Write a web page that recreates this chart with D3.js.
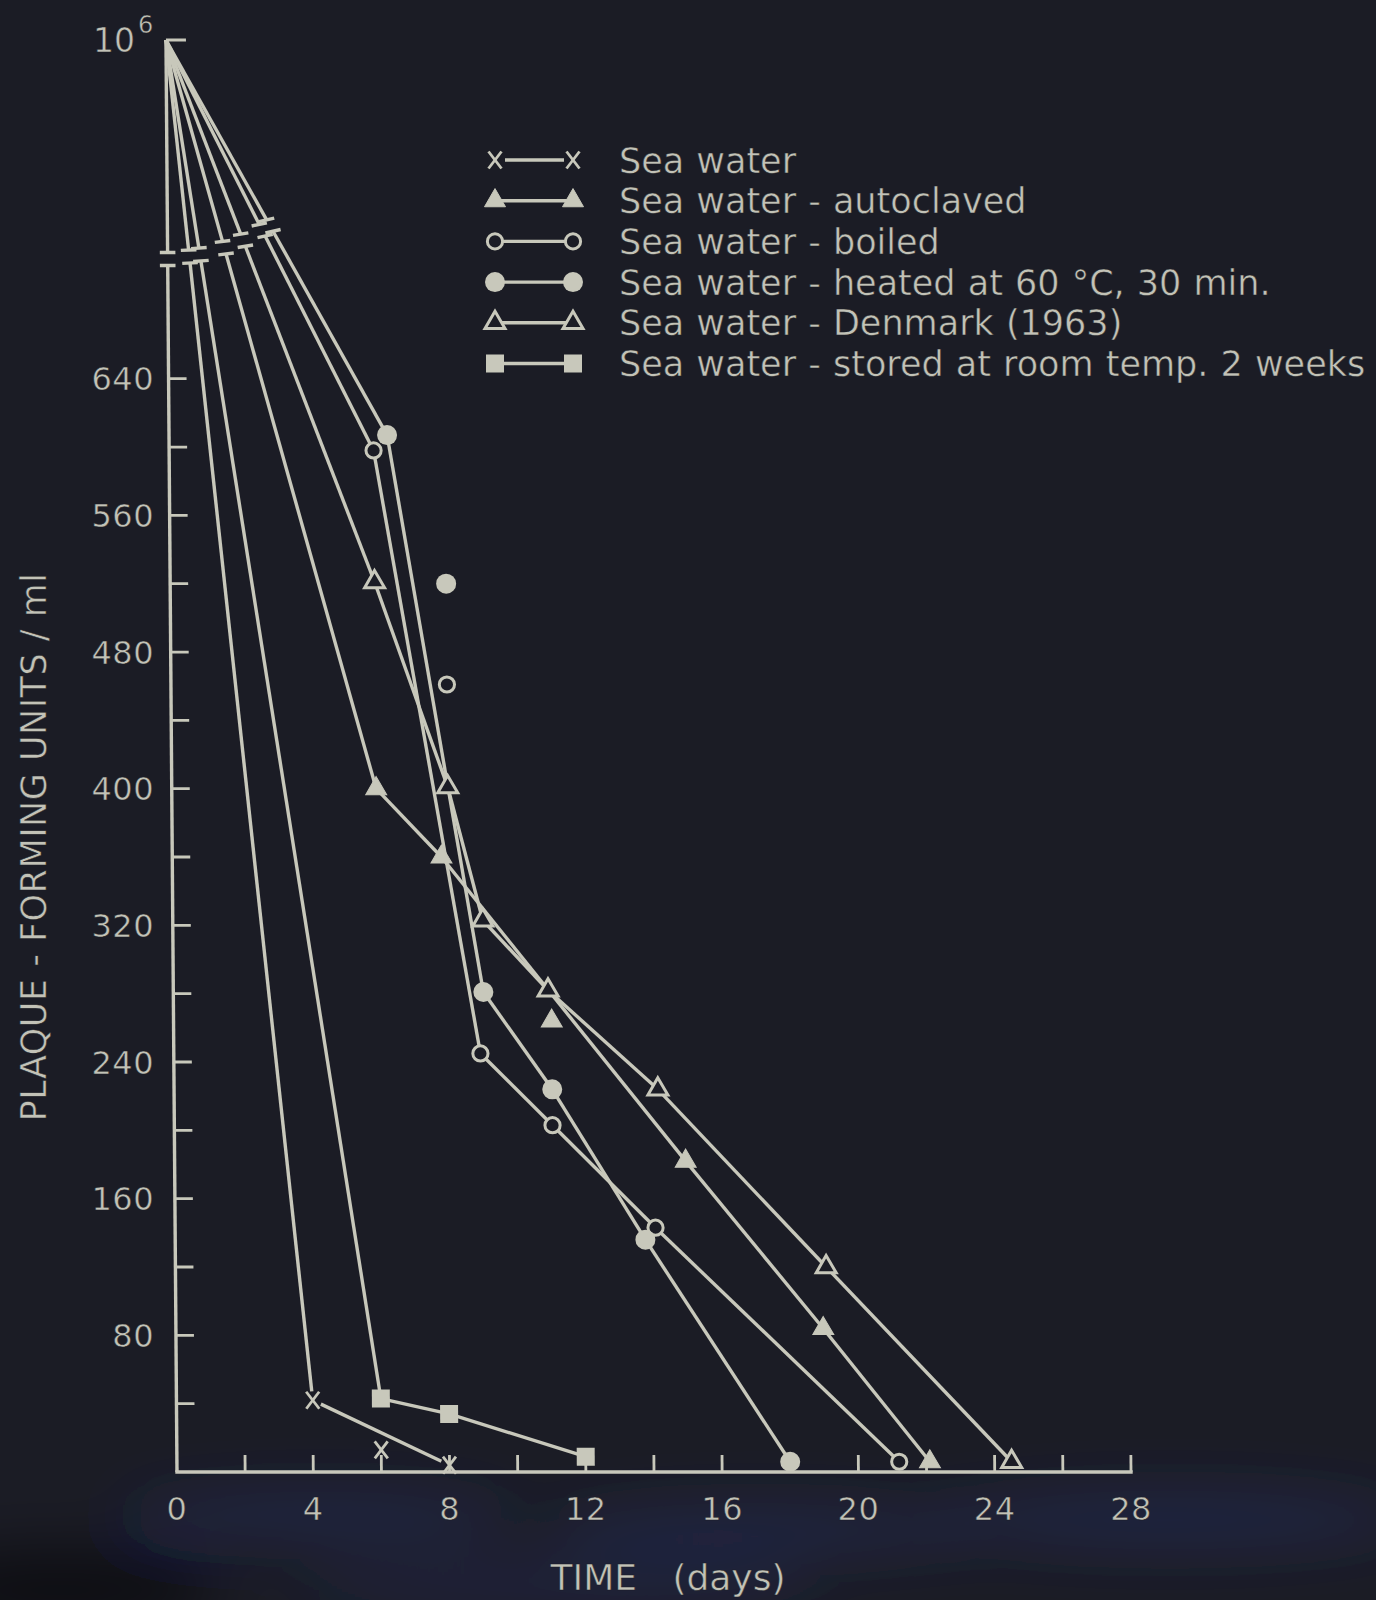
<!DOCTYPE html>
<html>
<head>
<meta charset="utf-8">
<script src="https://cdn.jsdelivr.net/npm/d3@7"></script>
<style>
  html, body { margin: 0; padding: 0; background: #1b1c25; }
  svg { display: block; }
  text { font-family: "DejaVu Sans", sans-serif; }
</style>
</head>
<body>
<svg id="chart" width="1376" height="1600"></svg>
<script>
// Phage survival in sea water: plaque-forming units per ml against time (days).
// Every series starts from 10^6 PFU/ml on day 0 (drawn above the axis break).
const startDay = 0;
const startPfu = 1e6;

const seaWaterDays   = [4, 6, 8];
const seaWaterPfu    = [42, 13, 4];
const seaWaterJoined = [true, false, true];

const autoclavedDays   = [6, 7.9, 11.1, 15, 19, 22.1];
const autoclavedPfu    = [400, 360, 264, 182, 84, 6];
const autoclavedJoined = [true, true, false, true, true, true];

const boiledDays   = [6, 8.1, 9, 11.1, 14.1, 21.2];
const boiledPfu    = [598, 461, 245, 203, 143, 6];
const boiledJoined = [true, false, true, true, true, true];

const heatedDays   = [6.4, 8.1, 9.1, 11.1, 13.8, 18];
const heatedPfu    = [607, 520, 281, 224, 136, 6];
const heatedJoined = [true, false, true, true, true, true];

const denmarkDays   = [6, 8.1, 9.1, 11, 14.2, 19.1, 24.5];
const denmarkPfu    = [521, 401, 323, 282, 224, 120, 6];
const denmarkJoined = [true, true, true, true, true, true, true];

const storedDays   = [6, 8, 12];
const storedPfu    = [43, 34, 9];
const storedJoined = [true, true, true];

const seriesLabels = [
  "Sea water",
  "Sea water - autoclaved",
  "Sea water - boiled",
  "Sea water - heated at 60 \u00B0C, 30 min.",
  "Sea water - Denmark (1963)",
  "Sea water - stored at room temp. 2 weeks"
];
const seriesMarkers = ["cross", "triFilled", "circleOpen", "circleFilled", "triOpen", "square"];

const xTickValues = [2, 4, 6, 8, 10, 12, 14, 16, 18, 20, 22, 24, 26, 28];
const xTickLabels = [0, 4, 8, 12, 16, 20, 24, 28];
const yTickValues = [40, 80, 120, 160, 200, 240, 280, 320, 360, 400, 440, 480, 520, 560, 600, 640];
const yTickLabels = [80, 160, 240, 320, 400, 480, 560, 640];

const xTitle = "TIME (days)";
const yTitle = "PLAQUE - FORMING UNITS / ml";

// ---------------------------------------------------------------------------
const W = 1376, H = 1600;
const bg = "#1b1c25";
const ink = "#c8c8bb";
const textInk = "#c2c2b7";

const series = [
  { days: seaWaterDays,   pfu: seaWaterPfu,   joined: seaWaterJoined },
  { days: autoclavedDays, pfu: autoclavedPfu, joined: autoclavedJoined },
  { days: boiledDays,     pfu: boiledPfu,     joined: boiledJoined },
  { days: heatedDays,     pfu: heatedPfu,     joined: heatedJoined },
  { days: denmarkDays,    pfu: denmarkPfu,    joined: denmarkJoined },
  { days: storedDays,     pfu: storedPfu,     joined: storedJoined }
].map((s, i) => ({ ...s, label: seriesLabels[i], marker: seriesMarkers[i] }));

const x = d3.scaleLinear().domain([0, 28]).range([177, 1131]);
// linear scale for the measured range; 10^6 sits above the break at the top
const y = d3.scaleLinear().domain([0, 640, startPfu]).range([1472, 378.7, 40]);
const base = y(0);
const shear = 0.0077; // the hand-drawn frame leans slightly to the left

const svg = d3.select("#chart");
const defs = svg.append("defs");
defs.append("filter").attr("id", "haze").attr("x", "-50%").attr("y", "-50%")
  .attr("width", "200%").attr("height", "200%")
  .append("feGaussianBlur").attr("stdDeviation", 28);

svg.append("rect").attr("width", W).attr("height", H).attr("fill", bg);

// bluish haze along the lower edge of the sheet
const haze = svg.append("g").attr("filter", "url(#haze)");
[[320, 1515, 200, 26, 0.26], [760, 1530, 220, 28, 0.24], [1170, 1520, 240, 30, 0.26], [560, 1585, 260, 30, 0.18]]
  .forEach(([cx, cy, rx, ry, o]) => {
    haze.append("ellipse").attr("cx", cx).attr("cy", cy).attr("rx", rx).attr("ry", ry)
      .attr("fill", `rgba(48,62,150,${o})`);
  });
haze.append("ellipse").attr("cx", 60).attr("cy", 1590).attr("rx", 160).attr("ry", 40)
  .attr("fill", "rgba(8,8,10,0.5)");

const plot = svg.append("g")
  .attr("transform", `matrix(1,0,${shear},1,${-shear * base},0)`);

const line = d3.line();

function seg(g, a, b, w = 3.4) {
  g.append("path").attr("d", line([a, b]))
    .attr("stroke", ink).attr("stroke-width", w).attr("fill", "none")
    .attr("stroke-linecap", "butt");
}

function shorten(a, b, ga, gb) {
  const dx = b[0] - a[0], dy = b[1] - a[1], L = Math.hypot(dx, dy);
  const ux = dx / L, uy = dy / L;
  return [[a[0] + ux * ga, a[1] + uy * ga], [b[0] - ux * gb, b[1] - uy * gb]];
}

// break of a line leaving the apex: gap with two short bars
function drawBroken(g, apex, target) {
  const dx = target[0] - apex[0], dy = target[1] - apex[1], L = Math.hypot(dx, dy);
  const ux = dx / L, uy = dy / L;
  const theta = Math.atan2(ux, uy);
  const r = 219 - 14 * theta, half = 6.5;
  const top = [apex[0] + ux * (r - half), apex[1] + uy * (r - half)];
  const bot = [apex[0] + ux * (r + half), apex[1] + uy * (r + half)];
  seg(g, apex, top);
  const phi = -0.45 * theta, hl = 7.8;
  [top, bot].forEach(c => {
    seg(g, [c[0] - Math.cos(phi) * hl, c[1] - Math.sin(phi) * hl],
           [c[0] + Math.cos(phi) * hl, c[1] + Math.sin(phi) * hl], 3.4);
  });
  return bot;
}

function drawMarker(g, type, cx, cy) {
  if (type === "cross") {
    const a = 6.5, b = 8.5;
    seg(g, [cx - a, cy - b], [cx + a, cy + b], 2.8);
    seg(g, [cx + a, cy - b], [cx - a, cy + b], 2.8);
  } else if (type === "triFilled" || type === "triOpen") {
    const s = type === "triFilled" ? 21 : 20;
    const h = s * Math.sqrt(3) / 2;
    const pts = [[cx, cy - h * 2 / 3], [cx - s / 2, cy + h / 3], [cx + s / 2, cy + h / 3]];
    g.append("path").attr("d", d3.line()(pts) + "Z")
      .attr("fill", type === "triFilled" ? ink : bg)
      .attr("stroke", ink).attr("stroke-width", type === "triFilled" ? 1 : 3)
      .attr("stroke-linejoin", "miter");
  } else if (type === "circleFilled") {
    g.append("circle").attr("cx", cx).attr("cy", cy).attr("r", 10).attr("fill", ink);
  } else if (type === "circleOpen") {
    g.append("circle").attr("cx", cx).attr("cy", cy).attr("r", 7.6)
      .attr("fill", bg).attr("stroke", ink).attr("stroke-width", 3);
  } else if (type === "square") {
    g.append("rect").attr("x", cx - 9).attr("y", cy - 9).attr("width", 18).attr("height", 18)
      .attr("fill", ink);
  }
}

const apex = [x(startDay), y(startPfu)];

// ----- axes -----
const axisG = plot.append("g");
const axisBot = drawBroken(axisG, apex, [x(0), base]);
seg(axisG, axisBot, [x(0), base]);
seg(axisG, [x(0) - 1.7, base], [x(28) + 1.7, base]);
seg(axisG, [x(0), y(startPfu)], [x(0) + 20, y(startPfu)], 3);
xTickValues.forEach(v => seg(axisG, [x(v), base], [x(v), base - 17], 2.8));
yTickValues.forEach(v => seg(axisG, [x(0), y(v)], [x(0) + 18, y(v)], 2.8));

// ----- series lines -----
const lineG = plot.append("g");
const markerGap = { cross: 9, triFilled: 0, triOpen: 0, circleFilled: 0, circleOpen: 0, square: 0 };
series.forEach(s => {
  const pts = s.days.map((d, i) => ({ p: [x(d), y(s.pfu[i])], joined: s.joined[i] }))
    .filter(o => o.joined).map(o => o.p);
  const start = drawBroken(lineG, apex, pts[0]);
  const chain = [start, ...pts];
  const gap = markerGap[s.marker];
  for (let i = 0; i < chain.length - 1; i++) {
    const [a, b] = shorten(chain[i], chain[i + 1], i === 0 ? 0 : gap, gap);
    seg(lineG, a, b);
  }
});

// ----- markers -----
const markG = plot.append("g");
series.forEach(s => {
  s.days.forEach((d, i) => drawMarker(markG, s.marker, x(d), y(s.pfu[i])));
});

// pen lettering: glyphs slightly thinned by a background-coloured outline
function letter(g, attrs, str) {
  const t = g.append("text").attr("fill", textInk)
    .attr("stroke", bg).attr("stroke-width", 0.5);
  Object.entries(attrs).forEach(([k, v]) => t.attr(k, v));
  return t.text(str);
}

// ----- tick labels -----
const labelG = svg.append("g");
xTickLabels.forEach(v => {
  letter(labelG, { x: x(v), y: 1520, "text-anchor": "middle", "font-size": 32, "letter-spacing": 0.5 }, v);
});
yTickLabels.forEach(v => {
  letter(labelG, { x: 154, y: y(v) + 11.5, "text-anchor": "end", "font-size": 32, "letter-spacing": 0.5 }, v);
});
letter(labelG, { x: 135, y: 52, "text-anchor": "end", "font-size": 33 }, "10");
letter(labelG, { x: 138, y: 33, "font-size": 24 }, "6");

// ----- axis titles -----
letter(labelG, { x: 668, y: 1590, "text-anchor": "middle", "font-size": 36, "word-spacing": 24 }, xTitle);
letter(labelG, { transform: "translate(46,847) rotate(-90)", "text-anchor": "middle",
  "font-size": 35, "letter-spacing": 0.5 }, yTitle);

// ----- legend -----
const legend = svg.append("g");
series.forEach((s, i) => {
  const cy = 160 + i * 40.7;
  const x0 = 495, x1 = 573;
  if (s.marker === "cross") seg(legend, [x0 + 10, cy], [x1 - 9, cy]);
  else seg(legend, [x0, cy], [x1, cy]);
  drawMarker(legend, s.marker, x0, cy);
  drawMarker(legend, s.marker, x1, cy);
  letter(legend, { x: 619, y: cy + 12.5, "font-size": 35, "word-spacing": 1 }, s.label);
});
</script>
</body>
</html>
